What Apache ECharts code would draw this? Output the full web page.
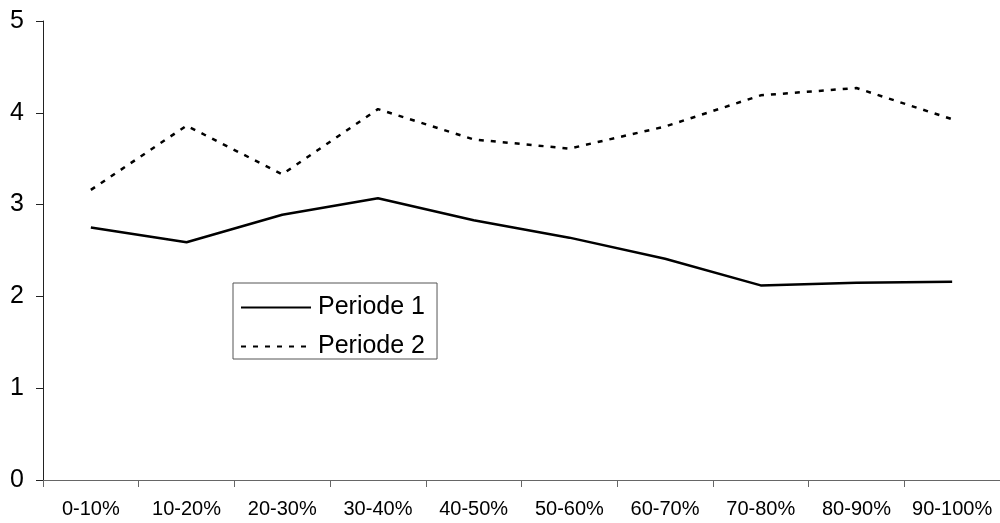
<!DOCTYPE html>
<html>
<head>
<meta charset="utf-8">
<style>
html,body{margin:0;padding:0;background:#fff;}
#chart{width:1000px;height:523px;}
</style>
<script src="https://cdn.jsdelivr.net/npm/echarts@6/dist/echarts.min.js"></script>
</head>
<body>
<div id="chart"></div>
<script>
const categories = ['0-10%','10-20%','20-30%','30-40%','40-50%','50-60%','60-70%','70-80%','80-90%','90-100%'];
const periode1 = [2.75, 2.59, 2.89, 3.07, 2.83, 2.64, 2.41, 2.12, 2.15, 2.16];
const periode2 = [3.16, 3.86, 3.33, 4.04, 3.71, 3.61, 3.85, 4.19, 4.27, 3.93];
const seriesNames = ['Periode 1', 'Periode 2'];
const yTicks = [0, 1, 2, 3, 4, 5];

const font = '"Liberation Sans", Arial, sans-serif';
const chart = echarts.init(document.getElementById('chart'), null, {renderer: 'canvas'});
chart.setOption({
  animation: false,
  backgroundColor: '#fff',
  grid: {left: 43, top: 21, bottom: 43, right: -10, containLabel: false},
  legend: {
    orient: 'vertical',
    left: 233, top: 283,
    width: 203,
    padding: [12, 12, 0, 7],
    itemGap: 14,
    itemWidth: 70,
    itemHeight: 24,
    borderColor: '#555',
    borderWidth: 1,
    backgroundColor: '#fff',
    itemStyle: {opacity: 0},
    textStyle: {fontFamily: font, fontSize: 25, color: '#000', padding: [0,0,0,2]},
    data: seriesNames
  },
  xAxis: {
    type: 'category',
    data: categories,
    boundaryGap: true,
    axisLine: {lineStyle: {color: '#666', width: 1}},
    axisTick: {show: true, length: 7, lineStyle: {color: '#666'}},
    axisLabel: {fontFamily: font, fontSize: 20, color: '#000', margin: 19, interval: 0},
    splitLine: {show: false}
  },
  yAxis: {
    type: 'value',
    min: yTicks[0], max: yTicks[yTicks.length - 1], interval: 1,
    axisLine: {show: true, lineStyle: {color: '#222', width: 1}},
    axisTick: {show: true, length: 7, lineStyle: {color: '#222'}},
    axisLabel: {fontFamily: font, fontSize: 25, color: '#000', margin: 19},
    splitLine: {show: false}
  },
  series: [
    {name: seriesNames[0], type: 'line', data: periode1, symbol: 'none',
     lineStyle: {color: '#000', width: 2.5, type: 'solid'}, itemStyle: {color: '#000'}},
    {name: seriesNames[1], type: 'line', data: periode2, symbol: 'none',
     lineStyle: {color: '#000', width: 2.5, type: [5, 7]}, itemStyle: {color: '#000'}}
  ]
});
</script>
</body>
</html>
